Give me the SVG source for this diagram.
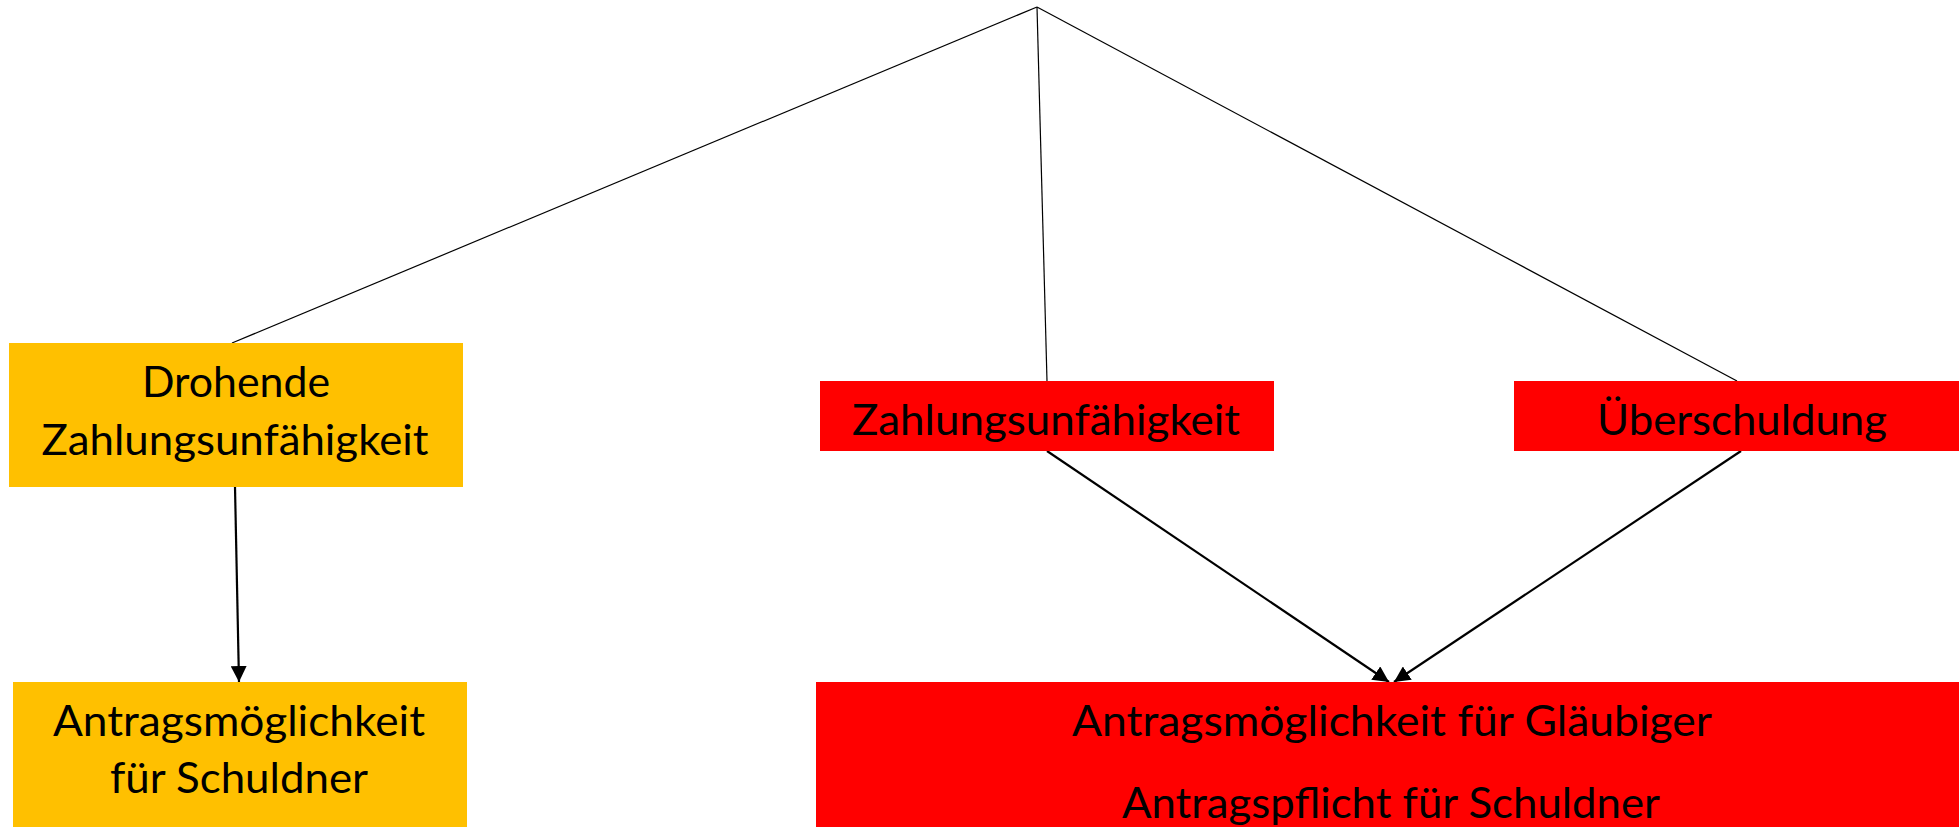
<svg xmlns="http://www.w3.org/2000/svg" width="1959" height="829" viewBox="0 0 1959 829">
<style>
.bg{fill:#ffffff}
.orange{fill:#FFC000}
.red{fill:#FF0000}
.t{font-family:Lato,"Open Sans","Liberation Sans",sans-serif;font-size:42px;fill:#000000;text-anchor:middle}
.thin{stroke:#000000;stroke-width:1.2;fill:none}
.arr{stroke:#000000;stroke-width:2.2;fill:none;marker-end:url(#ah)}
</style>
<defs>
<marker id="ah" markerUnits="userSpaceOnUse" markerWidth="16" markerHeight="16" viewBox="0 0 16 16" refX="16" refY="8" orient="auto">
<path d="M0,0 L16,8 L0,16 Z" fill="#000000"/>
</marker>
</defs>
<rect class="bg" x="0" y="0" width="1959" height="829"/>
<g id="connectors">
<line class="thin" x1="1037" y1="7" x2="232" y2="343"/>
<line class="thin" x1="1037" y1="7" x2="1047" y2="381"/>
<line class="thin" x1="1037" y1="7" x2="1737" y2="381"/>
<line class="arr" x1="235" y1="487" x2="239" y2="682"/>
<line class="arr" x1="1047" y1="451" x2="1389" y2="682"/>
<line class="arr" x1="1741" y1="451" x2="1394" y2="682"/>
</g>
<g id="drohende">
<rect class="orange" x="9" y="343" width="454" height="144"/>
<text class="t" x="236" y="397" textLength="188" lengthAdjust="spacingAndGlyphs">Drohende</text>
<text class="t" x="235" y="455" textLength="387" lengthAdjust="spacingAndGlyphs">Zahlungsunfähigkeit</text>
</g>
<g id="zahlungsunfaehigkeit">
<rect class="red" x="820" y="381" width="454" height="70"/>
<text class="t" x="1046" y="435" textLength="388" lengthAdjust="spacingAndGlyphs">Zahlungsunfähigkeit</text>
</g>
<g id="ueberschuldung">
<rect class="red" x="1514" y="381" width="445" height="70"/>
<text class="t" x="1742" y="435" textLength="290" lengthAdjust="spacingAndGlyphs">Überschuldung</text>
</g>
<g id="antragsmoeglichkeit-schuldner">
<rect class="orange" x="13" y="682" width="454" height="145"/>
<text class="t" x="239" y="736" textLength="372" lengthAdjust="spacingAndGlyphs">Antragsmöglichkeit</text>
<text class="t" x="239" y="793" textLength="258" lengthAdjust="spacingAndGlyphs">für Schuldner</text>
</g>
<g id="antrag-glaeubiger">
<rect class="red" x="816" y="682" width="1143" height="145"/>
<text class="t" x="1392" y="736" textLength="640" lengthAdjust="spacingAndGlyphs">Antragsmöglichkeit für Gläubiger</text>
<text class="t" x="1391" y="818" textLength="538" lengthAdjust="spacingAndGlyphs">Antragspflicht für Schuldner</text>
</g>
</svg>
